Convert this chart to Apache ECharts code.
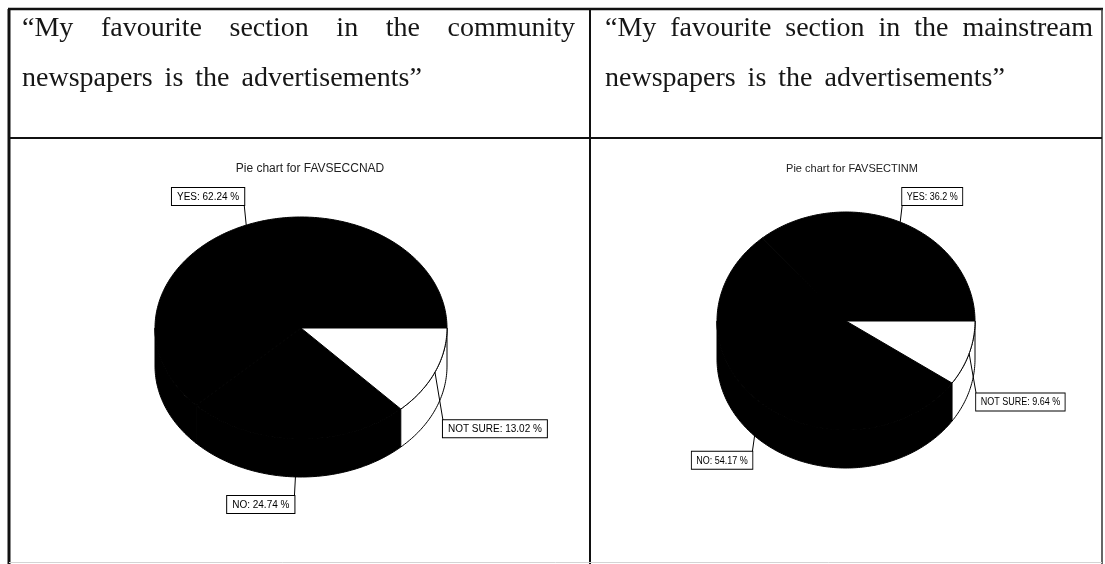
<!DOCTYPE html>
<html>
<head>
<meta charset="utf-8">
<title>Favourite section: advertisements</title>
<script src="https://cdn.jsdelivr.net/npm/echarts@6/dist/echarts.min.js"></script>
<style>
  html, body { margin: 0; padding: 0; background: #fff; }
  #main { width: 1105px; height: 564px; }
</style>
</head>
<body>
<div id="main"></div>
<script>
// ---- data ----
const sliceNames = ['YES', 'NO', 'NOT SURE'];
const communityShares = [62.24, 24.74, 13.02];
const mainstreamShares = [36.2, 54.17, 9.64];
const pieTitles = ['Pie chart for FAVSECCNAD', 'Pie chart for FAVSECTINM'];
const headings = [
  '\u201CMy favourite section in the community newspapers is the advertisements\u201D',
  '\u201CMy favourite section in the mainstream newspapers is the advertisements\u201D'
];

// ---- styling / layout ----
const sliceFill = ['#000', '#000', '#fff'];
const headingSize = 28;
const headingFont = headingSize + 'px "Liberation Serif", "Times New Roman", serif';
const labelFont = '10px "Liberation Sans", Arial, sans-serif';

// geometry of the two tilted pies (centre of the top face, radii, side depth)
const pieGeo = [
  { cx: 301, cy: 328, rx: 146, ry: 111, depth: 38, textScale: 1,
    lead: [[-2, -20], [-3, 57], [8, 48]] },
  { cx: 846, cy: 321, rx: 129, ry: 109, depth: 38, textScale: 0.9,
    lead: [[2, -17], [-7, 50], [7, 40]] }
];

// table frame
const frame = { left: 9, right: 1102, mid: 590, top: 9, headBottom: 138, bottom: 564 };
const cells = [
  { x0: 22, x1: 575 },
  { x0: 605, x1: 1093 }
];
const firstBaseline = 38.5, lineStep = 50, extraWordGap = 5;

// ---- heading text, justified like a word-processor table cell ----
const measureCtx = document.createElement('canvas').getContext('2d');
function textWidth(s) { measureCtx.font = headingFont; return measureCtx.measureText(s).width; }

function headingElements(str, x0, x1) {
  const words = str.split(' ');
  const space = textWidth(' ') + extraWordGap;
  const lines = [];
  let cur = [], curW = 0;
  words.forEach(w => {
    const ww = textWidth(w);
    const need = cur.length ? curW + space + ww : ww;
    if (cur.length && need > x1 - x0) { lines.push(cur); cur = [w]; curW = ww; }
    else { cur.push(w); curW = need; }
  });
  lines.push(cur);
  const out = [];
  lines.forEach((ln, li) => {
    const widths = ln.map(textWidth);
    const used = widths.reduce((a, b) => a + b, 0);
    const last = li === lines.length - 1;
    const gap = (!last && ln.length > 1) ? (x1 - x0 - used) / (ln.length - 1) : space;
    let x = x0;
    ln.forEach((w, k) => {
      out.push({
        type: 'text', x: x, y: firstBaseline + li * lineStep - headingSize * 0.34,
        style: { text: w, font: headingFont, fill: '#161616', align: 'left', verticalAlign: 'middle' },
        silent: true
      });
      x += widths[k] + gap;
    });
  });
  return out;
}

function frameElements() {
  const s = { stroke: '#111', lineWidth: 2 };
  const L = (x1, y1, x2, y2, style) => ({ type: 'line', shape: { x1, y1, x2, y2 }, style: style || s, silent: true });
  return [
    L(frame.left - 1, frame.top, frame.right + 1, frame.top, { stroke: '#111', lineWidth: 2.5 }),
    L(frame.left, frame.top, frame.left, frame.bottom, { stroke: '#111', lineWidth: 3 }),
    L(frame.right, frame.top, frame.right, frame.bottom, { stroke: '#333', lineWidth: 1.5 }),
    L(frame.mid, frame.top, frame.mid, frame.bottom, { stroke: '#111', lineWidth: 2 }),
    L(frame.left, frame.headBottom, frame.right, frame.headBottom, { stroke: '#111', lineWidth: 2 }),
    L(frame.left, 562.5, frame.right, 562.5, { stroke: '#d4d4d4', lineWidth: 1 })
  ];
}

// ---- tilted pie drawn as a custom series ----
function makePieRenderer(shares, geo) {
  const total = shares.reduce((a, b) => a + b, 0);
  const starts = [];
  let acc = 0;
  shares.forEach(v => { starts.push(acc); acc += v; });
  const rim = (a, dy) => [geo.cx + geo.rx * Math.cos(a), geo.cy - geo.ry * Math.sin(a) + (dy || 0)];
  const arc = (a0, a1, dy) => {
    const n = Math.max(2, Math.ceil((a1 - a0) / (Math.PI / 180)));
    const pts = [];
    for (let k = 0; k <= n; k++) pts.push(rim(a0 + (a1 - a0) * k / n, dy));
    return pts;
  };
  return function (params, api) {
    const i = params.dataIndex;
    const v = api.value(0);
    const a0 = starts[i] / total * Math.PI * 2;
    const a1 = a0 + v / total * Math.PI * 2;
    const fill = sliceFill[i];
    const children = [];

    // front side wall (visible for angles in the lower half)
    const s0 = Math.max(a0, Math.PI), s1 = Math.min(a1, Math.PI * 2);
    if (s1 > s0) {
      const pts = arc(s0, s1, 0).concat(arc(s0, s1, geo.depth).reverse());
      children.push({ type: 'polygon', shape: { points: pts },
        style: { fill: fill, stroke: '#000', lineWidth: 1 } });
    }
    // top face
    children.push({ type: 'polygon', shape: { points: [[geo.cx, geo.cy]].concat(arc(a0, a1, 0)) },
      style: { fill: fill, stroke: '#000', lineWidth: 1 } });

    // leader line and boxed label
    const am = (a0 + a1) / 2;
    const p = rim(am, 0);
    const lead = geo.lead[i];
    const e = [p[0] + lead[0], p[1] + lead[1]];
    children.push({ type: 'line', shape: { x1: p[0], y1: p[1], x2: e[0], y2: e[1] },
      style: { stroke: '#000', lineWidth: 1 }, z2: 10 });
    children.push({
      type: 'text', x: e[0], y: e[1], scaleX: geo.textScale, originX: 0, originY: 0, z2: 11,
      style: {
        text: sliceNames[i] + ': ' + v + ' %', font: labelFont, fill: '#000',
        align: p[0] < geo.cx ? 'right' : 'left',
        verticalAlign: lead[1] < 0 ? 'bottom' : 'top',
        backgroundColor: '#fff', borderColor: '#000', borderWidth: 1,
        padding: [4, 5, 3, 5]
      }
    });
    return { type: 'group', children: children };
  };
}

const chart = echarts.init(document.getElementById('main'), null, { renderer: 'canvas' });

const graphics = frameElements()
  .concat(headingElements(headings[0], cells[0].x0, cells[0].x1))
  .concat(headingElements(headings[1], cells[1].x0, cells[1].x1));

chart.setOption({
  animation: false,
  backgroundColor: '#fff',
  title: [
    { text: pieTitles[0], left: 305, top: 158, textAlign: 'center',
      textStyle: { fontSize: 12, fontWeight: 'normal', color: '#222', fontFamily: '"Liberation Sans", Arial, sans-serif' } },
    { text: pieTitles[1], left: 847, top: 158, textAlign: 'center',
      textStyle: { fontSize: 11, fontWeight: 'normal', color: '#222', fontFamily: '"Liberation Sans", Arial, sans-serif' } }
  ],
  graphic: { elements: graphics },
  series: [
    { type: 'custom', name: 'community', coordinateSystem: 'none',
      renderItem: makePieRenderer(communityShares, pieGeo[0]),
      data: communityShares.map((v, i) => ({ name: sliceNames[i], value: [v, i] })) },
    { type: 'custom', name: 'mainstream', coordinateSystem: 'none',
      renderItem: makePieRenderer(mainstreamShares, pieGeo[1]),
      data: mainstreamShares.map((v, i) => ({ name: sliceNames[i], value: [v, i] })) }
  ]
});
</script>
</body>
</html>
